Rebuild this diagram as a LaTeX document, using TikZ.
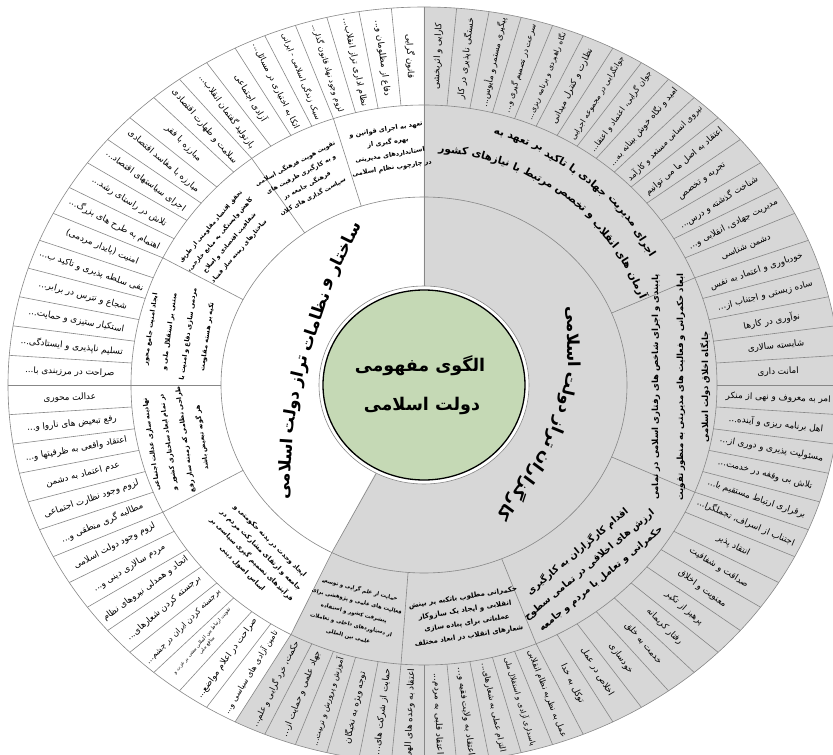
\documentclass[tikz,border=0pt]{standalone}
\usepackage{fontspec}
\setmainfont{DejaVu Sans}
\newfontfamily\arabicfont[Script=Arabic]{DejaVu Sans}
\TeXXeTstate=1
\newcommand\Rt[1]{\beginR #1\endR}
\newcommand\ld{...}
\newcommand\olfont{\arabicfont\fontsize{8.8}{10}\selectfont}
\newcommand\lonefont{\arabicfont\bfseries\fontsize{16.5}{20}\selectfont}
\newcommand\ctrfont{\arabicfont\bfseries\fontsize{17.5}{20}\selectfont}
\newcommand\bigtwofont{\arabicfont\bfseries\fontsize{10.5}{12}\selectfont}
\definecolor{secgray}{RGB}{215,215,215}
\definecolor{linegray}{RGB}{135,135,135}
\definecolor{centergreen}{RGB}{197,217,181}
\newlength\arcw
\newbox\measbox
\newcommand\measure[1]{\pgfinterruptpicture\global\setbox\measbox\hbox{#1}\endpgfinterruptpicture\global\arcw=\wd\measbox}
% #1 cx, #2 cy, #3 r, #4 mid angle, #5 font, #6 space, #7 words (first word at smallest angle)
\newcommand\ArcText[7]{%
  \gdef\ArcSum{0}\gdef\ArcN{0}%
  \foreach \aw in {#7}{%
    \measure{#5\Rt{\aw}}%
    \pgfmathsetmacro\tmp{\ArcSum+\arcw}\xdef\ArcSum{\tmp}%
    \pgfmathsetmacro\tmp{\ArcN+1}\xdef\ArcN{\tmp}%
  }%
  \pgfmathsetmacro\ArcTot{(\ArcSum+(\ArcN-1)*#6)/(#3)*180/pi}%
  \pgfmathsetmacro\tmp{#4-\ArcTot/2}\xdef\ArcCur{\tmp}%
  \foreach \aw in {#7}{%
    \measure{#5\Rt{\aw}}%
    \pgfmathsetmacro\ArcMid{\ArcCur+(\arcw/2)/(#3)*180/pi}%
    \node[inner sep=0pt, rotate=\ArcMid-90] at ({#1+(#3)*cos(\ArcMid)},{#2+(#3)*sin(\ArcMid)}) {#5\Rt{\aw}};%
    \pgfmathsetmacro\tmp{\ArcCur+(\arcw+#6)/(#3)*180/pi}\xdef\ArcCur{\tmp}%
  }%
}
\begin{document}
\begin{tikzpicture}[x=1pt,y=1pt,
  sep/.style={draw=linegray, line width=0.6pt},
  lvtwo/.style={align=center, inner sep=0pt, font=\arabicfont\bfseries\fontsize{6.5}{13}\selectfont},
  olab/.style={inner sep=0pt, font=\olfont},
]
\useasboundingbox (-424,-370) rectangle (409,385);
\fill[white] (-424,-370) rectangle (409,385);
\clip (-424,-370) rectangle (409,385);
% gray group
\fill[secgray] (0,0) -- (243:203 and 188) -- (243:293 and 280) -- (243:416 and 378)
   arc[start angle=243, end angle=450, x radius=416, y radius=378] -- cycle;
% rings
\draw[sep] (0,0) ellipse [x radius=203, y radius=188];
\draw[sep] (0,0) ellipse [x radius=293, y radius=280];
\draw[sep] (0,0) ellipse [x radius=416, y radius=378];
\foreach \k in {0,...,79} \draw[sep] ({90+\k*4.5}:293 and 280) -- ({90+\k*4.5}:416 and 378);
\foreach \a in {90,108,126,153,180,207,243,265.5,292.5,337.5,382.5} \draw[sep] (\a:203 and 188) -- (\a:293 and 280);
\foreach \a in {90,243} \draw[sep] (\a:95 and 90) -- (\a:203 and 188);
% centre
\draw[linegray, fill=white, line width=0.6pt] (0,0) ellipse [x radius=105, y radius=99];
\draw[black, fill=centergreen, line width=1.3pt] (0,0) ellipse [x radius=101, y radius=95];
\node[font=\ctrfont, inner sep=0pt] (c1) at (-4,19) {\Rt{الگوی مفهومی}};
\node[font=\ctrfont, inner sep=0pt] (c2) at (-2,-21) {\Rt{دولت اسلامی}};
% level 1 texts
\ArcText{444}{-123}{584}{165}{\lonefont}{5}{ساختار,و,نظامات,تراز,دولت,اسلامی}
\ArcText{-96}{45}{245}{-19}{\lonefont}{5}{کارگزاران,تراز,دولت,اسلامی}
% level 2 texts
\ArcText{0}{0}{262}{52}{\bigtwofont}{4}{اجرای,مدیریت,جهادی,با,تاکید,بر,تعهد,به}
\ArcText{0}{0}{236}{54}{\bigtwofont}{4}{آرمان,های,انقلاب,و,تخصص,مرتبط,با,نیازهای,کشور}
\node[lvtwo, rotate=9] (s1) at (-35,236) {\Rt{تعهد به اجرای قوانین و}\\\Rt{بهره گیری از}\\\Rt{استانداردهای مدیریتی}\\\Rt{در چارچوب نظام اسلامی}};
\node[lvtwo, rotate=28, font=\arabicfont\bfseries\fontsize{6.1}{12.5}\selectfont] (s2) at (-120,205) {\Rt{تقویت هویت فرهنگی اسلامی}\\\Rt{و به کارگیری ظرفیت های}\\\Rt{فرهنگی جامعه در}\\\Rt{سیاست گذاری های کلان}};
\node[lvtwo, rotate=49, font=\arabicfont\bfseries\fontsize{6}{12.5}\selectfont] (s3) at (-199,146) {\Rt{تحقق اقتصاد مقاومتی از طریق}\\\Rt{کاهش وابستگی به منابع خارجی،}\\\Rt{شفافیت اقتصادی و اصلاح}\\\Rt{ساختارهای زمینه ساز فساد}};
\node[lvtwo, rotate=82, font=\arabicfont\bfseries\fontsize{6.5}{19}\selectfont] (s4) at (-245,52) {\Rt{ایجاد امنیت جامع محور}\\\Rt{مبتنی بر استقلال ملی و}\\\Rt{مردمی سازی دفاع و امنیت با}\\\Rt{تکیه بر هسته مقاومت}};
\node[lvtwo, rotate=98, font=\arabicfont\bfseries\fontsize{6.5}{17}\selectfont] (s5) at (-247,-56) {\Rt{نهادینه سازی عدالت اجتماعی}\\\Rt{در تمام ابعاد ساختاری کشور و}\\\Rt{طراحی نظامی که زمینه ساز رفع}\\\Rt{هر گونه تبعیض باشد}};
\node[lvtwo, rotate=-45, font=\arabicfont\bfseries\fontsize{6.8}{13}\selectfont] (s6) at (-168,-170) {\Rt{ایجاد وحدت در بدنه حکومتی و}\\\Rt{جامعه و ارتقای مشارکت مردم در}\\\Rt{فرآیندهای تصمیم گیری سیاسی بر}\\\Rt{اساس اصول دینی}};
\node[lvtwo, rotate=-14, font=\arabicfont\bfseries\fontsize{5.4}{12}\selectfont] (s7) at (-70,-228) {\Rt{حمایت از علم گرایی و توسعه}\\\Rt{فعالیت های علمی و پژوهشی برای}\\\Rt{پیشرفت کشور و استفاده}\\\Rt{از دستاوردهای داخلی و تعاملات}\\\Rt{علمی بین المللی}};
\node[lvtwo, rotate=9, font=\arabicfont\bfseries\fontsize{7}{13}\selectfont] (s8) at (42,-232) {\Rt{حکمرانی مطلوب باتکیه بر بینش}\\\Rt{انقلابی و ایجاد یک سازوکار}\\\Rt{عملیاتی برای پیاده سازی}\\\Rt{شعارهای انقلاب در ابعاد مختلف}};
\node[lvtwo, rotate=40, font=\arabicfont\bfseries\fontsize{9.5}{18}\selectfont] (s9) at (165,-180) {\Rt{اقدام کارگزاران به کارگیری}\\\Rt{ارزش های اخلاقی در تمامی سطوح}\\\Rt{حکمرانی و تعامل با مردم و جامعه}};
\node[lvtwo, rotate=90, font=\arabicfont\bfseries\fontsize{8.5}{25}\selectfont] (s10) at (257,-2) {\Rt{پایبندی و اجرای شاخص های رفتاری اسلامی در تمامی}\\\Rt{ابعاد حکمرانی و فعالیت های مدیریتی به منظور تقویت}\\\Rt{جایگاه اخلاق دولت اسلامی}};
% outer labels
\foreach \i/\txt in {1/قانون گرایی,2/دفاع از مظلومان و\ld,3/نظام اداری تراز انقلاب\ld,4/لزوم وجود نهاد قانون گذار\ld,5/سبک زندگی اسلامی - ایرانی,6/اتکا به اختیاری در مسائل\ld,7/آزادی اجتماعی,8/بازتولید گفتمان انقلاب\ld,9/سلامت و طهارت اقتصادی,10/مبارزه با فقر,11/مبارزه با مفاسد اقتصادی,12/اجرای سیاستهای اقتصاد\ld,13/تلاش در راستای رشد\ld,14/اهتمام به طرح های بزرگ\ld,15/امنیت (پایدار مردمی),16/نفی سلطه پذیری و تاکید ب\ld,17/شجاع و نترس در برابر\ld,18/استکبار ستیزی و حمایت\ld,19/تسلیم ناپذیری و ایستادگی\ld,20/صراحت در مرزبندی با\ld,21/عدالت محوری,22/رفع تبعیض های ناروا و\ld,23/اعتقاد واقعی به ظرفیتها و\ld,24/عدم اعتماد به دشمن,25/لزوم وجود نظارت اجتماعی,26/مطالبه گری منطقی و\ld,27/لزوم وجود دولت اسلامی,28/مردم سالاری دینی و\ld,29/اتحاد و همدلی نیروهای نظام,30/برجسته کردن شعارهای\ld,31/برجسته کردن ایران در چشم\ld,33/صراحت در اعلام مواضع\ld,34/تامین آزادی های سیاسی و\ld,35/حکمت، خرد گرایی و علم\ld,36/جهاد علمی و حمایت از\ld,37/آموزش و پرورش و تربیت\ld,38/توجه ویژه به نخبگان,39/حمایت از شرکت های\ld,40/اعتقاد به وعده های الهی,41/اعتقاد قلبی به مردم\ld,42/اعتقاد به ولایت فقیه و\ld,43/التزام عملی به شعارهای\ld,44/پاسداری آزادی و استقلال ملی,45/عمل به نظریه نظام انقلابی,46/توکل به خدا,47/اخلاص در عمل,48/خودسازی,49/خدمت به خلق,50/رفتار کریمانه,51/پرهیز از تکبر,52/معنویت و اخلاق,53/صداقت و شفافیت,54/انتقاد پذیر,55/اجتناب از اسراف، تجملگرا\ld,56/برقراری ارتباط مستقیم با\ld,57/تلاش بی وقفه در خدمت\ld,58/مسئولیت پذیری و دوری از\ld,59/اهل برنامه ریزی و آینده\ld,60/امر به معروف و نهی از منکر,61/امانت داری,62/شایسته سالاری,63/نوآوری در کارها,64/ساده زیستی و اجتناب از\ld,65/خودباوری و اعتماد به نفس,66/دشمن شناسی,67/مدیریت جهادی، انقلابی و\ld,68/شناخت گذشته و درس\ld,69/تجربه و تخصص,70/اعتقاد به اصل ما می توانیم,71/نیروی انسانی مستعد و کارآمد,72/امید و نگاه خوش بینانه به\ld,73/جوان گرایی، اعتماد و اعتقا\ld,74/جوانگرایی در مجموعه اجرایی,75/نظارت و کنترل میدانی,76/نگاه راهبردی و برنامه ریزی\ld,77/سرعت در تصمیم گیری و\ld,78/پیگیری مستمر و مأیوس\ld,79/خستگی ناپذیری در کار,80/کارایی و اثربخشی}{%
  \pgfmathsetmacro\ta{90+(\i-0.5)*4.5}%
  \pgfmathsetmacro\ph{atan2(329*sin(\ta),354.5*cos(\ta))}%
  \pgfmathsetmacro\rot{ifthenelse(cos(\ta)<0,\ph-180,\ph)}%
  \pgfmathsetmacro\thick{416*sqrt(cos(\ta)^2+0.8257*sin(\ta)^2)-293*sqrt(cos(\ta)^2+0.9132*sin(\ta)^2)}%
  \measure{\olfont\Rt{\txt}}%
  \pgfmathsetmacro\sc{min(1,(\thick-8)/max(\arcw,1))}%
  \node[olab, rotate=\rot, scale=\sc] (o\i) at (\ta:354.5 and 329) {\Rt{\txt}};
}
\pgfmathsetmacro\ta{90+31.5*4.5}
\pgfmathsetmacro\ph{atan2(329*sin(\ta),354.5*cos(\ta))}
\pgfmathsetmacro\rot{\ph-180}
\node[inner sep=0pt, align=center, font=\arabicfont\fontsize{5}{6.5}\selectfont, rotate=\rot] (o32) at (\ta:354.5 and 329) {\Rt{تقویت ارتباط بین المللی مبتنی بر عزت و}\\\Rt{منافع ملی}};
\end{tikzpicture}
\end{document}
